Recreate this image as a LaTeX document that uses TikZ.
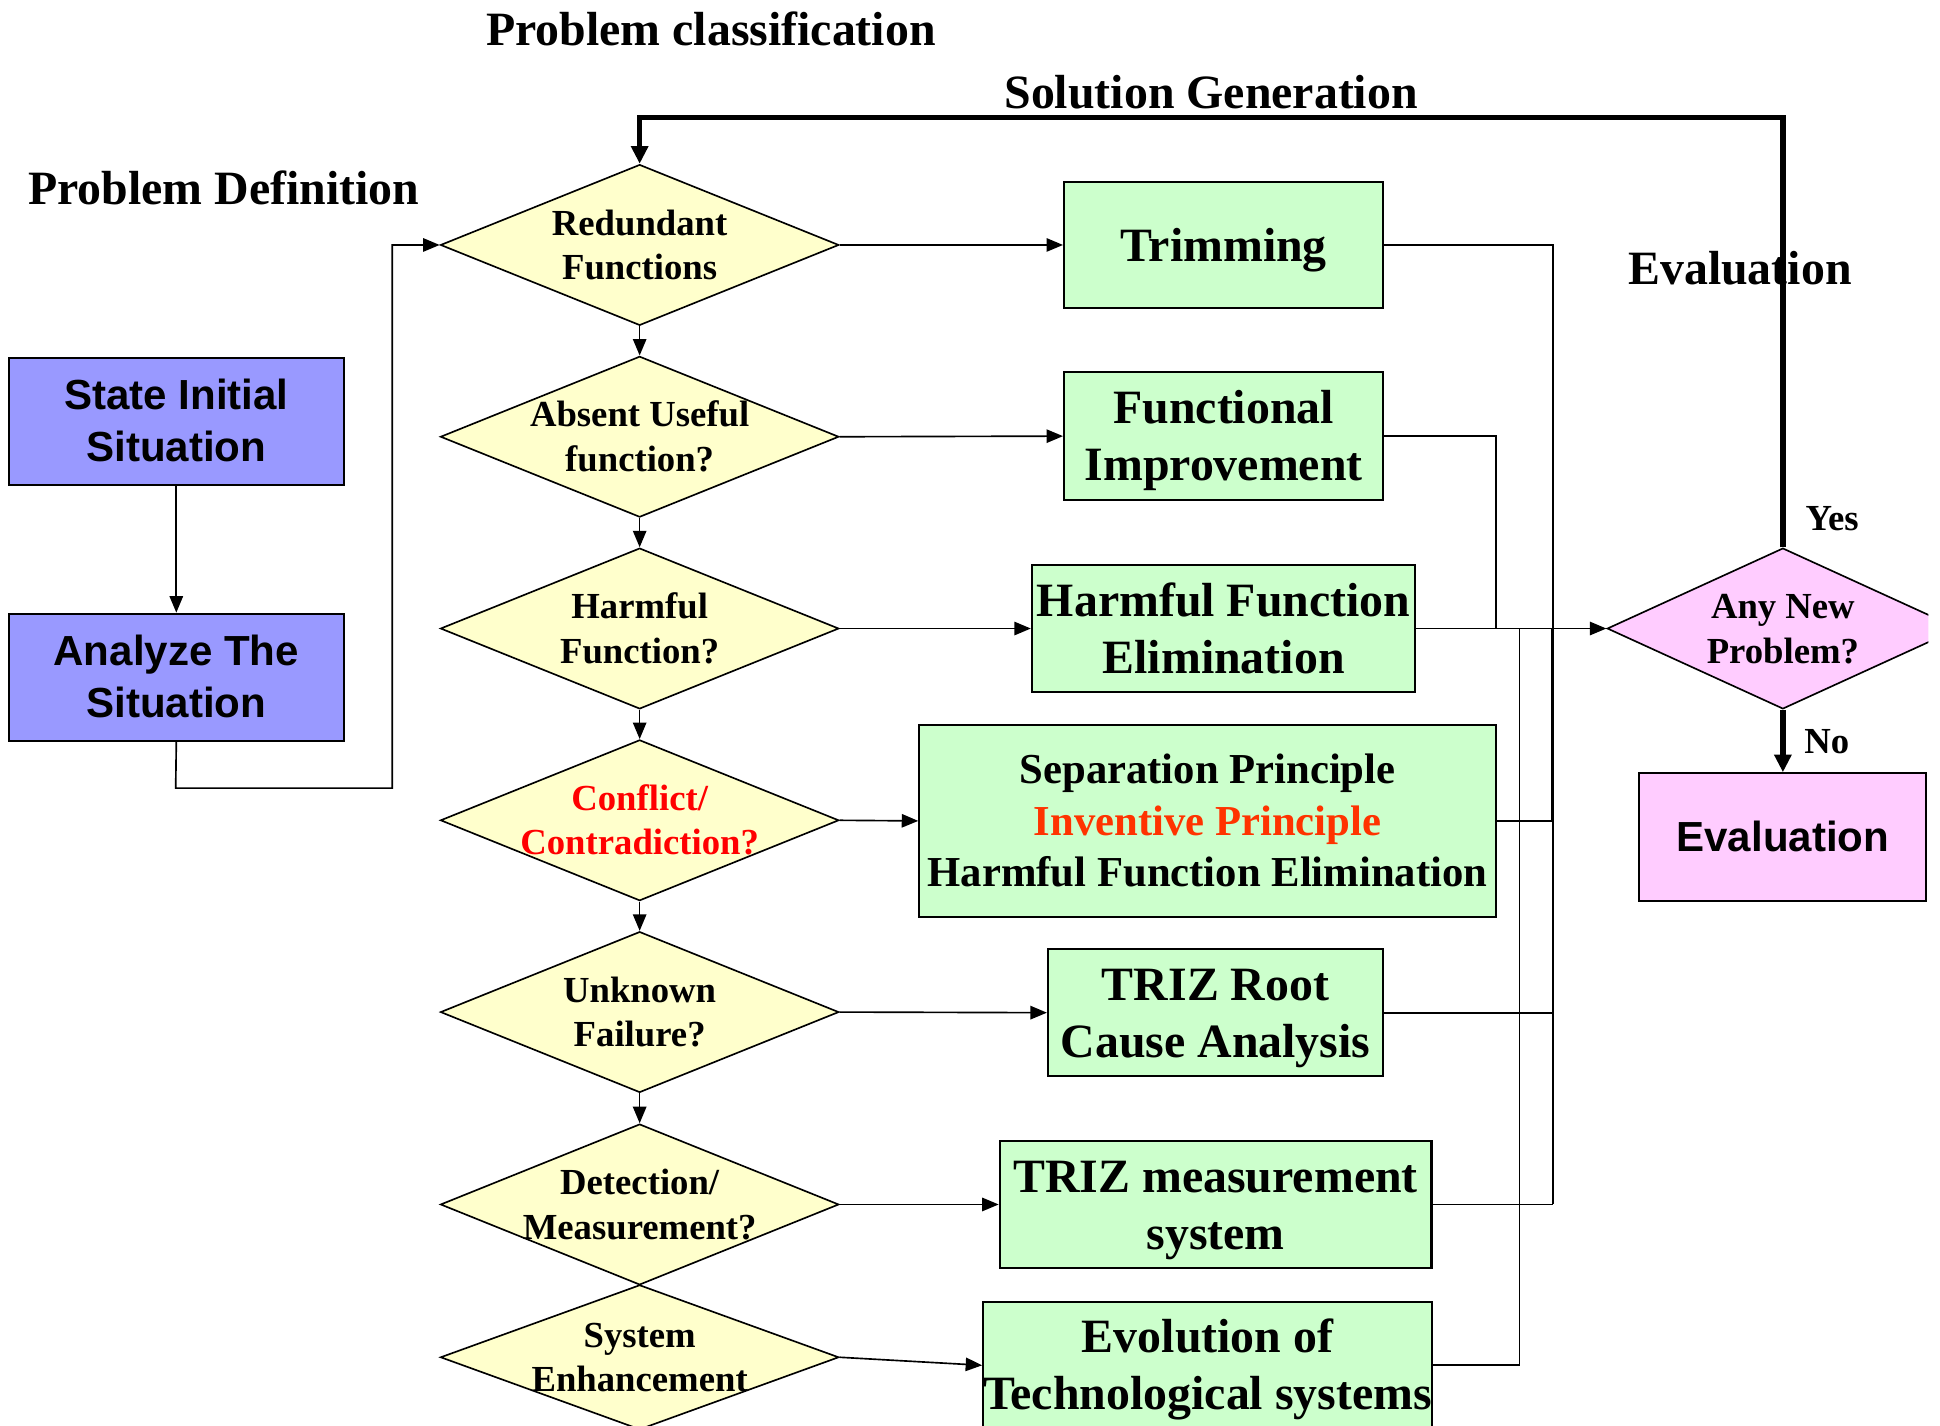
\documentclass[tikz,border=0pt]{standalone}
\usepackage{fontspec}
\setmainfont{Liberation Serif}
\setsansfont{Liberation Sans}
\usetikzlibrary{shapes.geometric,arrows.meta}
\definecolor{blu}{HTML}{9999FF}
\definecolor{grn}{HTML}{CCFFCC}
\definecolor{yel}{HTML}{FFFFCC}
\definecolor{pnk}{HTML}{FFCCFF}
\definecolor{ored}{HTML}{FF3300}
\definecolor{cred}{HTML}{FF0000}
\newcommand{\ps}{\rule[-0.216em]{0pt}{1.107em}}
\newcommand{\pss}{\rule[-0.212em]{0pt}{1.117em}}
\begin{document}
\begin{tikzpicture}[x=0.6pt,y=-0.6pt,
  sz/.style 2 args={minimum width=#1*0.6pt, minimum height=#2*0.6pt},
  bigf/.style={font=\fontsize{23.2}{27.6}\selectfont\bfseries},
  sepf/.style={font=\fontsize{20.7}{24.9}\selectfont\bfseries},
  dfont/.style={font=\fontsize{17.8}{21.6}\selectfont\bfseries},
  sansf/.style={font=\fontsize{20.4}{25.2}\selectfont\sffamily\bfseries},
  title/.style={bigf, anchor=base west, inner sep=0pt},
  bbox/.style={draw, line width=1pt, fill=blu, inner sep=0pt, align=center, sansf},
  gbox/.style={draw, line width=1pt, fill=grn, inner sep=0pt, align=center, bigf},
  pbox/.style={draw, line width=1pt, fill=pnk, inner sep=0pt, align=center, sansf},
  ydia/.style={diamond, draw, line width=0.8pt, fill=yel, inner sep=0pt},
  pdia/.style={diamond, draw, line width=0.8pt, fill=pnk, inner sep=0pt},
  dtxt/.style={dfont, align=center, inner sep=0pt},
  lbl/.style={dfont, anchor=base west, inner sep=0pt},
  conn/.style={draw, line width=0.8pt},
  arr/.style={conn, -{Triangle[length=8pt,width=6.5pt]}},
  thickc/.style={draw, line width=2.6pt, -{Triangle[length=8.5pt,width=8pt]}}
]
\useasboundingbox (0,0) rectangle (1568,1152);
\clip (0,0) rectangle (1558.5,1152);

% titles
\node[title] (tclass) at (392.6,36.4) {Problem classification};
\node[title] (tsol) at (811.5,87.6) {Solution Generation};
\node[title] (tdef) at (22.5,165) {Problem Definition};
\node[title] (teval) at (1315.7,229.7) {Evaluation};

% left boxes
\node[bbox, sz={271}{103}] (sis) at (142.5,340.5) {\pss State Initial\\\pss Situation};
\node[bbox, sz={271}{103}] (ana) at (142.5,547.5) {\pss Analyze The\\\pss Situation};

% diamonds
\node[ydia, sz={322}{130}] (d1) at (517,198) {};
\node[ydia, sz={322}{130}] (d2) at (517,353) {};
\node[ydia, sz={322}{130}] (d3) at (517,508) {};
\node[ydia, sz={322}{130}] (d4) at (517,663) {};
\node[ydia, sz={322}{130}] (d5) at (517,818) {};
\node[ydia, sz={322}{130}] (d6) at (517,973.5) {};
\node[ydia, sz={322}{117}] (d7) at (517,1097) {};
\node[pdia, sz={284}{130}] (anp) at (1441,508) {};

\node[dtxt] (t1) at (d1) {\ps Redundant\\\ps Functions};
\node[dtxt] (t2) at (d2) {\ps Absent Useful\\\ps function?};
\node[dtxt] (t3) at (d3) {\ps Harmful\\\ps Function?};
\node[dtxt, text=cred] (t4) at (d4) {\ps Conflict/\\\ps Contradiction?};
\node[dtxt] (t5) at (d5) {\ps Unknown\\\ps Failure?};
\node[dtxt] (t6) at (d6) {\ps Detection/\\\ps Measurement?};
\node[dtxt] (t7) at (d7) {\ps System\\\ps Enhancement};
\node[dtxt] (t8) at (anp) {\ps Any New\\\ps Problem?};

% green boxes
\node[gbox, sz={258}{102}] (trim) at (989,198) {\ps Trimming};
\node[gbox, sz={258}{103}] (func) at (989,352.5) {\ps Functional\\\ps Improvement};
\node[gbox, sz={310}{102}] (harm) at (989,508) {\ps Harmful Function\\\ps Elimination};
\node[gbox, sepf, sz={466}{155}] (sep) at (976,663.5) {\ps Separation Principle\\\ps\textcolor{ored}{Inventive Principle}\\\ps Harmful Function Elimination};
\node[gbox, sz={271}{103}] (triz) at (982.5,818.5) {\ps TRIZ Root\\\ps Cause Analysis};
\node[gbox, sz={349}{103}] (tms) at (982.5,973.5) {\ps TRIZ measurement\\\ps system};
\node[gbox, sz={362}{103}] (evo) at (976,1103.5) {\ps Evolution of\\\ps Technological systems};

% evaluation box
\node[pbox, sz={232}{103}] (evb) at (1441,676.5) {\pss Evaluation};

% labels
\node[lbl] (yes) at (1459,428.4) {Yes};
\node[lbl] (no) at (1458,608.9) {No};

% coordinates
\coordinate (lb) at (142,637);
\coordinate (lt) at (317,198);
\coordinate (bus) at (1255,973.5);
\coordinate (bus2) at (1209,508);
\coordinate (bus3) at (1228,508);
\coordinate (ltop) at (1441,95);

% left connectors
\draw[arr] (sis) -- (ana);
\draw[arr] (ana.south) -- (lb) -| (lt) -- (d1.west);

% diamond chain
\draw[arr] (d1.south) -- (d2.north);
\draw[arr] (d2.south) -- (d3.north);
\draw[arr] (d3.south) -- (d4.north);
\draw[arr] (d4.south) -- (d5.north);
\draw[arr] (d5.south) -- (d6.north);

% diamonds to boxes
\draw[arr] (d1.east) -- (trim.west);
\draw[arr] (d2.east) -- (func.west);
\draw[arr] (d3.east) -- (harm.west);
\draw[arr] (d4.east) -- (sep.west);
\draw[arr] (d5.east) -- (triz.west);
\draw[arr] (d6.east) -- (tms.west);
\draw[arr] (d7.east) -- (evo.west);

% collectors
\draw[conn] (trim.east) -| (bus);
\draw[conn] (tms.east) -- (bus);
\draw[conn] (sep.east) -- (sep.east -| bus);
\draw[draw, line width=1.5pt] (sep.east -| bus) -- (harm.east -| bus);
\draw[conn] (triz.east) -- (triz.east -| bus);
\draw[conn] (func.east) -| (bus2);
\draw[conn] (evo.east) -| (bus3);
\draw[arr] (harm.east) -- (anp.west);

% thick loop and No branch
\draw[thickc] (anp.north) -- (ltop) -| (d1.north);
\draw[thickc] (anp.south) -- (evb.north);
\end{tikzpicture}
\end{document}
